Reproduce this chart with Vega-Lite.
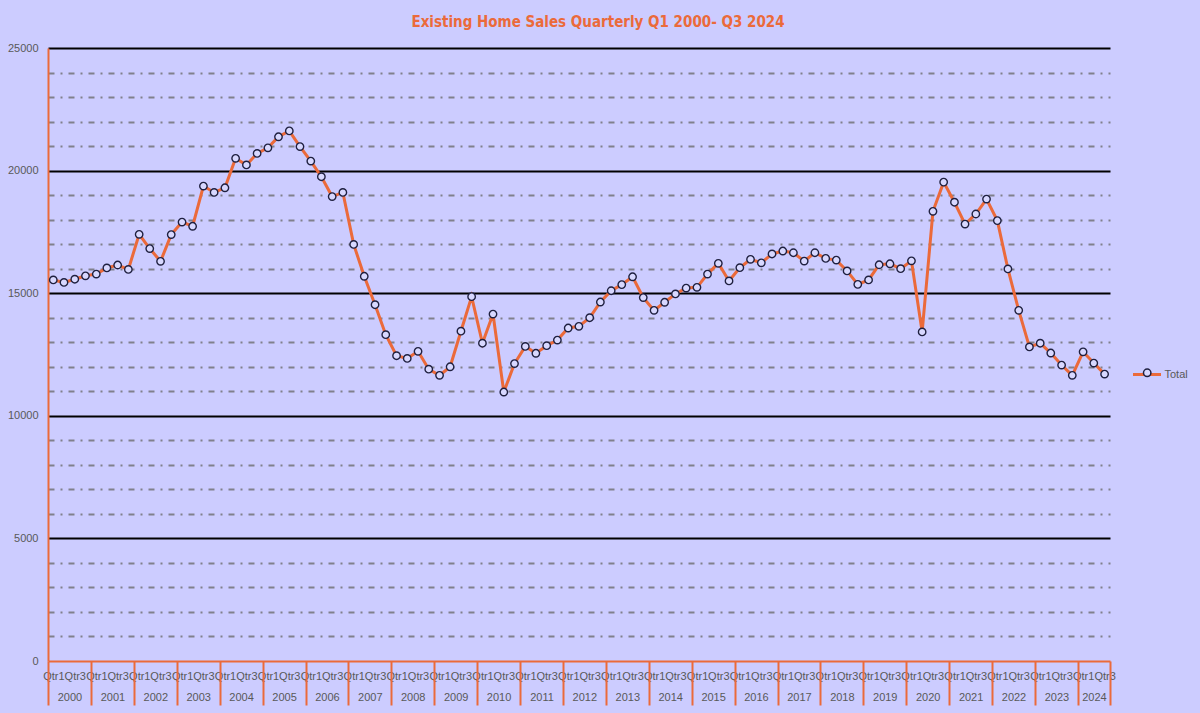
{
  "$schema": "https://vega.github.io/schema/vega-lite/v6.json",
  "width": 1062,
  "height": 613,
  "autosize": {"type": "none"},
  "padding": {"left": 48, "top": 48, "right": 90, "bottom": 52},
  "background": "#CCCCFF",
  "config": {"view": {"stroke": null}, "font": "Liberation Sans"},
  "title": {
    "text": "Existing Home Sales Quarterly  Q1 2000- Q3 2024",
    "anchor": "middle",
    "frame": "group",
    "dx": 19,
    "offset": 12,
    "font": "Liberation Sans Narrow, DejaVu Sans Condensed, Liberation Sans",
    "fontWeight": "bold",
    "fontSize": 15,
    "color": "#EB6A3A"
  },
  "data": {
    "values": [
      {"date": "2000-02-15", "sales": 15540}, {"date": "2000-05-16", "sales": 15440}, {"date": "2000-08-16", "sales": 15570}, {"date": "2000-11-15", "sales": 15710},
      {"date": "2001-02-15", "sales": 15780}, {"date": "2001-05-16", "sales": 16030}, {"date": "2001-08-16", "sales": 16150}, {"date": "2001-11-15", "sales": 15970},
      {"date": "2002-02-15", "sales": 17400}, {"date": "2002-05-16", "sales": 16820}, {"date": "2002-08-16", "sales": 16300}, {"date": "2002-11-15", "sales": 17390},
      {"date": "2003-02-15", "sales": 17900}, {"date": "2003-05-16", "sales": 17730}, {"date": "2003-08-16", "sales": 19370}, {"date": "2003-11-15", "sales": 19110},
      {"date": "2004-02-15", "sales": 19300}, {"date": "2004-05-16", "sales": 20500}, {"date": "2004-08-16", "sales": 20230}, {"date": "2004-11-15", "sales": 20700},
      {"date": "2005-02-15", "sales": 20930}, {"date": "2005-05-16", "sales": 21380}, {"date": "2005-08-16", "sales": 21620}, {"date": "2005-11-15", "sales": 20980},
      {"date": "2006-02-15", "sales": 20390}, {"date": "2006-05-16", "sales": 19750}, {"date": "2006-08-16", "sales": 18940}, {"date": "2006-11-15", "sales": 19110},
      {"date": "2007-02-15", "sales": 16990}, {"date": "2007-05-16", "sales": 15690}, {"date": "2007-08-16", "sales": 14530}, {"date": "2007-11-15", "sales": 13310},
      {"date": "2008-02-15", "sales": 12450}, {"date": "2008-05-16", "sales": 12340}, {"date": "2008-08-16", "sales": 12630}, {"date": "2008-11-15", "sales": 11900},
      {"date": "2009-02-15", "sales": 11650}, {"date": "2009-05-16", "sales": 12000}, {"date": "2009-08-16", "sales": 13450}, {"date": "2009-11-15", "sales": 14860},
      {"date": "2010-02-15", "sales": 12960}, {"date": "2010-05-16", "sales": 14150}, {"date": "2010-08-16", "sales": 10970}, {"date": "2010-11-15", "sales": 12130},
      {"date": "2011-02-15", "sales": 12830}, {"date": "2011-05-16", "sales": 12550}, {"date": "2011-08-16", "sales": 12860}, {"date": "2011-11-15", "sales": 13090},
      {"date": "2012-02-15", "sales": 13580}, {"date": "2012-05-16", "sales": 13650}, {"date": "2012-08-16", "sales": 14000}, {"date": "2012-11-15", "sales": 14640},
      {"date": "2013-02-15", "sales": 15100}, {"date": "2013-05-16", "sales": 15350}, {"date": "2013-08-16", "sales": 15670}, {"date": "2013-11-15", "sales": 14820},
      {"date": "2014-02-15", "sales": 14300}, {"date": "2014-05-16", "sales": 14630}, {"date": "2014-08-16", "sales": 14970}, {"date": "2014-11-15", "sales": 15210},
      {"date": "2015-02-15", "sales": 15240}, {"date": "2015-05-16", "sales": 15780}, {"date": "2015-08-16", "sales": 16220}, {"date": "2015-11-15", "sales": 15500},
      {"date": "2016-02-15", "sales": 16040}, {"date": "2016-05-16", "sales": 16380}, {"date": "2016-08-16", "sales": 16240}, {"date": "2016-11-15", "sales": 16600},
      {"date": "2017-02-15", "sales": 16720}, {"date": "2017-05-16", "sales": 16650}, {"date": "2017-08-16", "sales": 16310}, {"date": "2017-11-15", "sales": 16650},
      {"date": "2018-02-15", "sales": 16420}, {"date": "2018-05-16", "sales": 16350}, {"date": "2018-08-16", "sales": 15910}, {"date": "2018-11-15", "sales": 15360},
      {"date": "2019-02-15", "sales": 15540}, {"date": "2019-05-16", "sales": 16160}, {"date": "2019-08-16", "sales": 16200}, {"date": "2019-11-15", "sales": 16000},
      {"date": "2020-02-15", "sales": 16320}, {"date": "2020-05-16", "sales": 13420}, {"date": "2020-08-16", "sales": 18340}, {"date": "2020-11-15", "sales": 19530},
      {"date": "2021-02-15", "sales": 18710}, {"date": "2021-05-16", "sales": 17820}, {"date": "2021-08-16", "sales": 18230}, {"date": "2021-11-15", "sales": 18840},
      {"date": "2022-02-15", "sales": 17960}, {"date": "2022-05-16", "sales": 15990}, {"date": "2022-08-16", "sales": 14300}, {"date": "2022-11-15", "sales": 12810},
      {"date": "2023-02-15", "sales": 12960}, {"date": "2023-05-16", "sales": 12560}, {"date": "2023-08-16", "sales": 12070}, {"date": "2023-11-15", "sales": 11650},
      {"date": "2024-02-15", "sales": 12610}, {"date": "2024-05-16", "sales": 12150}, {"date": "2024-08-16", "sales": 11700}
    ]
  },
  "encoding": {
    "y": {
      "field": "sales",
      "type": "quantitative",
      "scale": {"domain": [0, 25000], "nice": false},
      "axis": {
        "title": null,
        "values": [0, 1000, 2000, 3000, 4000, 5000, 6000, 7000, 8000, 9000, 10000, 11000, 12000, 13000, 14000, 15000, 16000, 17000, 18000, 19000, 20000, 21000, 22000, 23000, 24000, 25000],
        "format": "d",
        "labelExpr": "datum.value % 5000 === 0 ? datum.label : ''",
        "ticks": false,
        "domainColor": "#EB6A3A",
        "domainWidth": 2,
        "gridColor": {"condition": {"test": "datum.value % 5000 === 0", "value": "#000000"}, "value": "#80808C"},
        "gridDash": {"condition": {"test": "datum.value % 5000 === 0", "value": []}, "value": [6, 6, 2, 6]},
        "gridOpacity": {"condition": {"test": "datum.value === 0", "value": 0}, "value": 1},
        "gridWidth": 2,
        "labelColor": "#595959",
        "labelFontSize": 11,
        "labelPadding": 10
      }
    }
  },
  "layer": [
    {
      "mark": {"type": "line", "strokeWidth": 3},
      "encoding": {
        "x": {
          "field": "date",
          "type": "temporal",
          "scale": {"type": "utc", "nice": false, "domain": [{"year": 2000, "month": 1, "date": 1, "utc": true}, {"year": 2024, "month": 10, "date": 1, "utc": true}]},
          "axis": {
            "orient": "bottom",
            "title": null,
            "tickCount": {"interval": "month", "step": 6},
            "labelExpr": "utcmonth(datum.value) == 0 ? 'Qtr1' : 'Qtr3'",
            "labelOffset": 5.4,
            "ticks": false,
            "grid": false,
            "domainColor": "#EB6A3A",
            "domainWidth": 2,
            "labelPadding": 9,
            "labelFontSize": 11,
            "labelColor": "#595959",
            "labelOverlap": false,
            "labelFlush": false,
            "labelBound": false,
            "labelAlign": "center"
          }
        },
        "color": {
          "datum": "Total",
          "scale": {"range": ["#EB6A3A"]},
          "legend": {
            "orient": "none",
            "legendX": 1083.5,
            "legendY": 311,
            "title": null,
            "padding": 0,
            "symbolType": "stroke",
            "symbolSize": 784,
            "symbolStrokeWidth": 3,
            "labelFontSize": 11,
            "labelColor": "#595959",
            "labelOffset": 2
          }
        }
      }
    },
    {
      "mark": {"type": "point", "filled": true, "fill": "#D8D8FF", "stroke": "#1F2040", "strokeWidth": 1.4, "size": 55, "opacity": 1},
      "encoding": {
        "x": {
          "field": "date",
          "type": "temporal",
          "axis": {
            "orient": "bottom",
            "title": null,
            "values": [
              {"year": 2000, "month": 1, "date": 1, "utc": true}, {"year": 2001, "month": 1, "date": 1, "utc": true},
              {"year": 2002, "month": 1, "date": 1, "utc": true}, {"year": 2003, "month": 1, "date": 1, "utc": true},
              {"year": 2004, "month": 1, "date": 1, "utc": true}, {"year": 2005, "month": 1, "date": 1, "utc": true},
              {"year": 2006, "month": 1, "date": 1, "utc": true}, {"year": 2007, "month": 1, "date": 1, "utc": true},
              {"year": 2008, "month": 1, "date": 1, "utc": true}, {"year": 2009, "month": 1, "date": 1, "utc": true},
              {"year": 2010, "month": 1, "date": 1, "utc": true}, {"year": 2011, "month": 1, "date": 1, "utc": true},
              {"year": 2012, "month": 1, "date": 1, "utc": true}, {"year": 2013, "month": 1, "date": 1, "utc": true},
              {"year": 2014, "month": 1, "date": 1, "utc": true}, {"year": 2015, "month": 1, "date": 1, "utc": true},
              {"year": 2016, "month": 1, "date": 1, "utc": true}, {"year": 2017, "month": 1, "date": 1, "utc": true},
              {"year": 2018, "month": 1, "date": 1, "utc": true}, {"year": 2019, "month": 1, "date": 1, "utc": true},
              {"year": 2020, "month": 1, "date": 1, "utc": true}, {"year": 2021, "month": 1, "date": 1, "utc": true},
              {"year": 2022, "month": 1, "date": 1, "utc": true}, {"year": 2023, "month": 1, "date": 1, "utc": true},
              {"year": 2024, "month": 1, "date": 1, "utc": true}, {"year": 2024, "month": 10, "date": 1, "utc": true}
            ],
            "labelExpr": "utcmonth(datum.value) == 0 ? utcFormat(datum.value, '%Y') : ''",
            "labelOffset": {"condition": {"test": "utcyear(datum.value) == 2024", "value": 16.1}, "value": 21.45},
            "domain": false,
            "grid": false,
            "tickColor": "#EB6A3A",
            "tickWidth": 2,
            "tickSize": 44,
            "labelPadding": -14,
            "labelFontSize": 11,
            "labelColor": "#595959",
            "labelOverlap": false,
            "labelFlush": false,
            "labelBound": false,
            "labelAlign": "center"
          }
        },
        "shape": {
          "datum": "Total ",
          "scale": {"range": ["circle"]},
          "legend": {
            "orient": "none",
            "legendX": 1094.2,
            "legendY": 319.8,
            "title": null,
            "padding": 0,
            "symbolSize": 55,
            "labelExpr": "''",
            "encode": {
              "symbols": {
                "update": {
                  "fill": {"value": "#D8D8FF"},
                  "stroke": {"value": "#1F2040"},
                  "strokeWidth": {"value": 1.4},
                  "opacity": {"value": 1}
                }
              }
            }
          }
        }
      }
    }
  ],
  "resolve": {"axis": {"x": "independent"}}
}
